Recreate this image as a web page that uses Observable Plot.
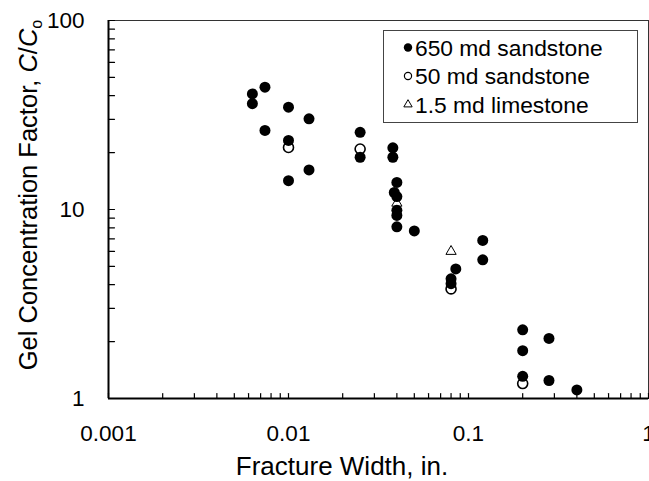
<!DOCTYPE html>
<html><head><meta charset="utf-8">
<script src="https://cdn.jsdelivr.net/npm/d3@7"></script>
<script src="https://cdn.jsdelivr.net/npm/@observablehq/plot@0.6"></script>
<style>
body{margin:0;background:#fff;}
#chart{position:relative;width:649px;height:481px;overflow:hidden;}
</style>
</head><body><div id="chart"></div>
<script>
// ---- data ----
const seriesNames = ["650 md sandstone", "50 md sandstone", "1.5 md limestone"];

const width650 = [0.0063, 0.0063, 0.0074, 0.0074, 0.01, 0.01, 0.01, 0.013, 0.013,
  0.025, 0.025, 0.038, 0.038, 0.04, 0.0387, 0.04, 0.04, 0.04, 0.04, 0.05,
  0.085, 0.08, 0.08, 0.12, 0.12, 0.2, 0.2, 0.2, 0.28, 0.28, 0.4];
const conc650 = [40.9, 36.3, 44.4, 26.2, 34.8, 23.2, 14.2, 30.2, 16.2,
  25.6, 18.9, 21.2, 18.9, 13.9, 12.3, 11.7, 9.9, 9.3, 8.1, 7.7,
  4.85, 4.3, 4.05, 6.86, 5.42, 2.31, 1.79, 1.31, 2.08, 1.245, 1.11];

const width50 = [0.01, 0.025, 0.08, 0.2];
const conc50 = [21.3, 20.9, 3.8, 1.2];

const width15 = [0.04, 0.08];
const conc15 = [10.8, 6.0];

const xTickLabels = [0.001, 0.01, 0.1, 1];
const yTickLabels = [1, 10, 100];
const xMinorTicks = [0.002, 0.003, 0.004, 0.005, 0.006, 0.007, 0.008, 0.009,
  0.02, 0.03, 0.04, 0.05, 0.06, 0.07, 0.08, 0.09,
  0.2, 0.3, 0.4, 0.5, 0.6, 0.7, 0.8, 0.9];
const yMinorTicks = [2, 3, 4, 5, 6, 7, 8, 9, 20, 30, 40, 50, 60, 70, 80, 90];

const xTitle = "Fracture Width, in.";
const yTitleParts = ["Gel Concentration Factor, ", "C", "/", "C", "o"];

// ---- build tables ----
const d650 = width650.map((w, i) => ({w, c: conc650[i]}));
const d50 = width50.map((w, i) => ({w, c: conc50[i]}));
const d15 = width15.map((w, i) => ({w, c: conc15[i]}));

const font = "'Liberation Sans', Arial, Helvetica, sans-serif";
const tickShape = {draw(ctx, l) { ctx.moveTo(0, 0); ctx.lineTo(0, -l); }};

const plot = Plot.plot({
  width: 649, height: 481,
  marginLeft: 108, marginRight: 1, marginTop: 20, marginBottom: 83,
  style: {fontFamily: font, background: "white", color: "black", overflow: "visible"},
  x: {type: "log", domain: [0.001, 1]},
  y: {type: "log", domain: [1, 100]},
  marks: [
    Plot.ruleY([100], {stroke: "#333", strokeWidth: 1}),
    Plot.ruleX([1], {stroke: "#333", strokeWidth: 1}),
    Plot.vector(xMinorTicks.concat(xTickLabels), {x: d => d, frameAnchor: "bottom", length: 5, anchor: "start", shape: tickShape, stroke: "black", strokeWidth: 1.2}),
    Plot.vector(yMinorTicks.concat(yTickLabels), {y: d => d, frameAnchor: "left", length: 6, rotate: 90, anchor: "start", shape: tickShape, stroke: "black", strokeWidth: 1.2}),
    Plot.axisX({ticks: xTickLabels, tickSize: 0, tickPadding: 27, fontSize: 22.5, tickFormat: d => String(d), label: null}),
    Plot.axisY({ticks: yTickLabels, tickSize: 0, tickPadding: 24, fontSize: 22.5, tickFormat: d => String(d), label: null}),
    Plot.ruleX([0.001], {stroke: "black", strokeWidth: 2}),
    Plot.ruleY([1], {stroke: "black", strokeWidth: 2}),
    Plot.dot(d15, {x: "w", y: "c", symbol: "triangle", r: 3.8, fill: "white", stroke: "black", strokeWidth: 1}),
    Plot.dot(d50, {x: "w", y: "c", r: 5, fill: "white", stroke: "black", strokeWidth: 1.6}),
    Plot.dot(d650, {x: "w", y: "c", r: 5.5, fill: "black", stroke: "none"})
  ]
});

document.getElementById("chart").appendChild(plot);

// ---- titles and legend as real SVG text ----
const svg = d3.select(plot);

svg.append("text")
  .attr("x", 342).attr("y", 475)
  .attr("text-anchor", "middle")
  .attr("font-family", font).attr("font-size", 26).attr("fill", "black")
  .text(xTitle);

const yt = svg.append("text")
  .attr("transform", "translate(37,195) rotate(-90)")
  .attr("text-anchor", "middle")
  .attr("font-family", font).attr("font-size", 25.5).attr("fill", "black");
yt.append("tspan").text(yTitleParts[0]);
yt.append("tspan").attr("font-style", "italic").text(yTitleParts[1]);
yt.append("tspan").text(yTitleParts[2]);
yt.append("tspan").attr("font-style", "italic").text(yTitleParts[3]);
yt.append("tspan").attr("font-size", 16).attr("dy", 5).text(yTitleParts[4]);

const lg = svg.append("g");
lg.append("rect").attr("x", 383.5).attr("y", 30.5).attr("width", 254).attr("height", 92)
  .attr("fill", "white").attr("stroke", "#444").attr("stroke-width", 1);
const rowY = [47.5, 76, 104.5];
seriesNames.forEach((name, i) => {
  const cy = rowY[i];
  if (i === 0) {
    lg.append("circle").attr("cx", 408).attr("cy", cy).attr("r", 4.2).attr("fill", "black");
  } else if (i === 1) {
    lg.append("circle").attr("cx", 408).attr("cy", cy).attr("r", 3.6).attr("fill", "white")
      .attr("stroke", "black").attr("stroke-width", 1.2);
  } else {
    lg.append("path").attr("transform", `translate(408,${cy})`)
      .attr("d", d3.symbol(d3.symbolTriangle, 30)())
      .attr("fill", "white").attr("stroke", "black").attr("stroke-width", 1);
  }
  lg.append("text").attr("x", 415).attr("y", cy + 8)
    .attr("text-anchor", "start")
    .attr("font-family", font).attr("font-size", 22.8).attr("fill", "black")
    .text(name);
});
</script>
</body></html>
